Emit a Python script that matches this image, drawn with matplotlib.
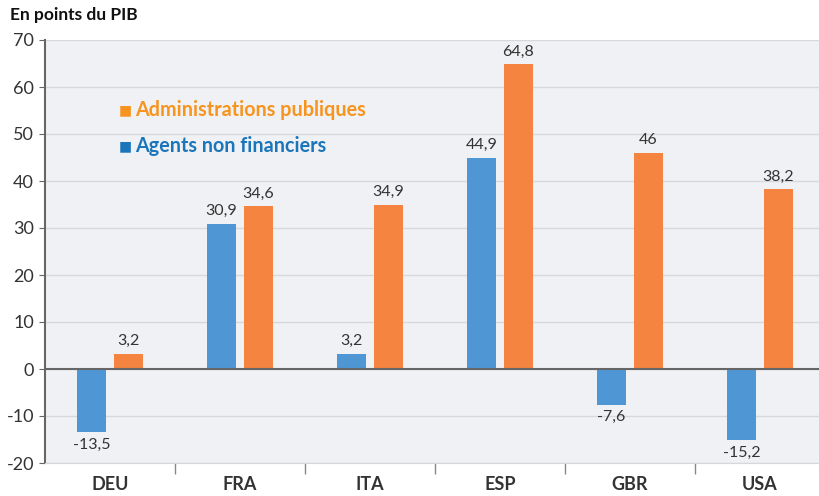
import matplotlib.pyplot as plt
import numpy as np

pays = ["DEU", "FRA", "ITA", "ESP", "GBR", "USA"]
agents = [-13.5, 30.9, 3.2, 44.9, -7.6, -15.2]
admin = [3.2, 34.6, 34.9, 64.8, 46.0, 38.2]
etiq_agents = ["-13,5", "30,9", "3,2", "44,9", "-7,6", "-15,2"]
etiq_admin = ["3,2", "34,6", "34,9", "64,8", "46", "38,2"]

plt.rcParams['font.family'] = ['Lato', 'DejaVu Sans']

bleu = "#4f97d4"
orange = "#f4843f"
gris = "#333333"

fig = plt.figure(figsize=(8.19, 4.96), dpi=100)
ax = fig.add_axes([45/819, 1 - 463/496, 780/819, 423/496])
ax.set_facecolor("#f0f1f4")

x = np.arange(len(pays))
w = 0.223
off = 0.142
b1 = ax.bar(x - off, agents, w, color=bleu, zorder=3)
b2 = ax.bar(x + off, admin, w, color=orange, zorder=3)

for i in range(len(pays)):
    v = agents[i]
    if v >= 0:
        ax.text(x[i] - off, v + 1.2, etiq_agents[i], ha="center", va="bottom", fontsize=11.5, color=gris)
    else:
        ax.text(x[i] - off, v - 1.2, etiq_agents[i], ha="center", va="top", fontsize=11.5, color=gris)
    ax.text(x[i] + off, admin[i] + 1.2, etiq_admin[i], ha="center", va="bottom", fontsize=11.5, color=gris)

ax.set_ylim(-20, 70)
ax.set_xlim(-0.5, 5.5)
ax.set_yticks(range(-20, 71, 10))
ax.set_yticklabels([str(t) for t in range(-20, 71, 10)], fontsize=13, color=gris)
ax.yaxis.grid(True, color="#d6d8dc", linewidth=1, zorder=0)
ax.axhline(0, color="#666666", linewidth=1.5, zorder=4)

ax.set_xticks(x)
ax.set_xticklabels(pays, fontsize=13, fontweight="bold", color=gris)
ax.tick_params(axis="x", length=0, pad=9)
ax.set_xticks(np.arange(0.5, 5.5, 1), minor=True)
ax.tick_params(axis="x", which="minor", length=8, color="#888888", width=1)
ax.tick_params(axis="y", length=4, color="#666666", pad=4)

for s in ["top", "right"]:
    ax.spines[s].set_visible(False)
ax.spines["left"].set_color("#666666")
ax.spines["left"].set_linewidth(1.5)
ax.spines["bottom"].set_color("#d6d8dc")

fig.text(10/819, 1 - 15/496, "En points du PIB", fontsize=12.5, fontweight="bold", color="#111111", va="center")

ax.text(0.094, 0.834, "■", transform=ax.transAxes, fontsize=10, color="#f7941d", va="center")
ax.text(0.116, 0.834, "Administrations publiques", transform=ax.transAxes, fontsize=14.2, fontweight="bold", color="#f7941d", va="center")
ax.text(0.094, 0.749, "■", transform=ax.transAxes, fontsize=10, color="#1a75bb", va="center")
ax.text(0.116, 0.749, "Agents non financiers", transform=ax.transAxes, fontsize=14.2, fontweight="bold", color="#1a75bb", va="center")

fig.savefig("out.png", dpi=100)
